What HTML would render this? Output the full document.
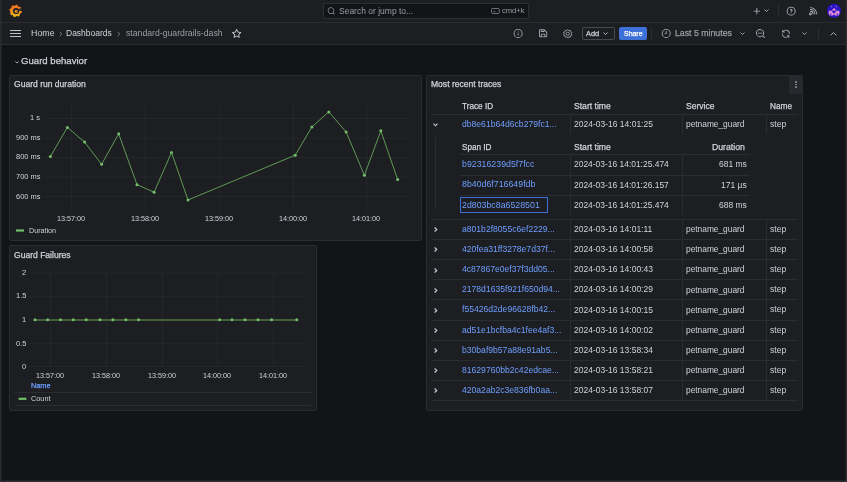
<!DOCTYPE html>
<html><head><meta charset="utf-8"><title>standard-guardrails-dash - Dashboards - Grafana</title>
<style>
html,body{margin:0;padding:0;}
body{width:847px;height:482px;overflow:hidden;position:relative;background:#2b2c31;font-family:"Liberation Sans",Arial,sans-serif;}
.t{position:absolute;white-space:nowrap;will-change:transform;}
svg{overflow:visible;}
</style></head><body>
<div style="position:absolute;left:1px;top:0px;width:845px;height:481px;background:#131418;border-radius:0 0 4px 4px;"></div>
<div style="position:absolute;left:1px;top:0px;width:845px;height:22px;background:#1d1e22;"></div>
<div style="position:absolute;left:1px;top:22px;width:845px;height:1px;background:#2b2c31;"></div>
<div style="position:absolute;left:1px;top:23px;width:845px;height:21px;background:#1d1e22;"></div>
<div style="position:absolute;left:1px;top:44px;width:845px;height:1px;background:#2b2c31;"></div>
<svg style="position:absolute;left:7px;top:3px" width="17" height="16" viewBox="7 3 17 16"><defs><linearGradient id="lg" x1="0" y1="4.5" x2="0" y2="17.3" gradientUnits="userSpaceOnUse"><stop offset="0" stop-color="#ea6a1c"/><stop offset="0.5" stop-color="#f08c1d"/><stop offset="1" stop-color="#f8c11c"/></linearGradient></defs>
<polygon points="16.20,4.93 17.35,5.16 18.01,6.41 18.84,6.96 20.25,7.10 20.90,8.08 20.48,9.43 20.68,10.41 21.57,11.50 21.34,12.65 20.09,13.31 19.54,14.14 19.40,15.55 18.42,16.20 17.07,15.78 16.09,15.98 15.00,16.87 13.85,16.64 13.19,15.39 12.36,14.84 10.95,14.70 10.30,13.72 10.72,12.37 10.52,11.39 9.63,10.30 9.86,9.15 11.11,8.49 11.66,7.66 11.80,6.25 12.78,5.60 14.13,6.02 15.11,5.82" fill="url(#lg)" stroke="url(#lg)" stroke-width="0.5" stroke-linejoin="round"/>
<circle cx="16.1" cy="11.0" r="3.1" fill="#1d1e22"/>
<path d="M18.0 9.3 L21.9 8.0 L22.0 10.8 L18.5 11.0 Z" fill="#2a2b30"/>
<circle cx="16.3" cy="11.3" r="1.65" fill="url(#lg)"/>
<circle cx="16.8" cy="11.3" r="0.55" fill="#3a3020"/></svg>
<div style="position:absolute;left:322.5px;top:2.5px;width:206.5px;height:16.8px;background:#131418;border:1px solid rgba(204,204,220,0.15);border-radius:2px;box-sizing:border-box;"></div>
<svg style="position:absolute;left:0;top:0" width="847" height="482" viewBox="0 0 847 482"><path transform="translate(326.970 6.570) scale(0.3650)" fill="#9a9aa6" d="M21.71,20.29,18,16.61A9,9,0,1,0,16.61,18l3.68,3.68a1,1,0,0,0,1.42,0A1,1,0,0,0,21.71,20.29ZM11,18a7,7,0,1,1,7-7A7,7,0,0,1,11,18Z"/></svg>
<div class="t" style="left:338.80px;top:6.70px;font-size:8.5px;line-height:8.5px;color:#9d9da6;font-weight:400;">Search or jump to...</div>
<svg style="position:absolute;left:490.7px;top:8.3px" width="9" height="6" viewBox="0 0 9 6"><rect x="0.5" y="0.5" width="7.8" height="5" rx="1" stroke="#7a7a84" stroke-width="0.9" fill="none"/><path d="M2.2 3.6 h2.2" stroke="#7a7a84" stroke-width="0.8"/></svg>
<div class="t" style="left:501.50px;top:7.27px;font-size:7.6px;line-height:7.6px;color:#9d9da6;font-weight:400;">cmd+k</div>
<svg style="position:absolute;left:0;top:0" width="847" height="482" viewBox="0 0 847 482"><path transform="translate(751.787 6.038) scale(0.4219)" fill="#b4b4c0" d="M19,11H13V5a1,1,0,0,0-2,0v6H5a1,1,0,0,0,0,2h6v6a1,1,0,0,0,2,0V13h6a1,1,0,0,0,0-2Z"/></svg>
<svg style="position:absolute;left:764px;top:9.2px" width="5" height="3" viewBox="0 0 5 3"><path d="M0.5 0.5 L2.5 2.5 L4.5 0.5" stroke="#b4b4c0" stroke-width="0.9" fill="none"/></svg>
<div style="position:absolute;left:778px;top:4.2px;width:1px;height:13.3px;background:#2b2c31;"></div>
<svg style="position:absolute;left:0;top:0" width="847" height="482" viewBox="0 0 847 482"><path transform="translate(785.810 5.810) scale(0.4450)" fill="#b4b4c0" d="M11.29,15.29a1.58,1.58,0,0,0-.12.15.76.76,0,0,0-.09.18.64.64,0,0,0-.06.18,1.36,1.36,0,0,0,0,.2.84.84,0,0,0,.08.38.9.9,0,0,0,.54.54.94.94,0,0,0,.76,0,.9.9,0,0,0,.54-.54A1,1,0,0,0,13,16a1,1,0,0,0-.29-.71A1,1,0,0,0,11.29,15.29ZM12,2A10,10,0,1,0,22,12,10,10,0,0,0,12,2Zm0,18a8,8,0,1,1,8-8A8,8,0,0,1,12,20ZM12,7A3,3,0,0,0,9.4,8.5a1,1,0,1,0,1.73,1A1,1,0,0,1,12,9a1,1,0,0,1,0,2,1,1,0,0,0-1,1v1a1,1,0,0,0,2,0v-.18A3,3,0,0,0,12,7Z"/></svg>
<svg style="position:absolute;left:0;top:0" width="847" height="482" viewBox="0 0 847 482"><path transform="translate(808.119 5.364) scale(0.4528)" fill="#b4b4c0" d="M2.88,16.88a3,3,0,1,0,4.24,0A3.06,3.06,0,0,0,2.88,16.88Zm2.830,2.830h0a1,1,0,0,1-1.42-1.420,1,1,0,0,1,1.42,0A1,1,0,0,1,5.71,19.71ZM5,12a1,1,0,0,0,0,2,5,5,0,0,1,5,5,1,1,0,0,0,2,0,7,7,0,0,0-7-7ZM5,8A1,1,0,0,0,5,10a9,9,0,0,1,9,9,1,1,0,0,0,2,0,11.080,11.080,0,0,0-3.22-7.78A11.080,11.080,0,0,0,5,8Zm10.61.39A15.110,15.110,0,0,0,5,4,1,1,0,0,0,5,6,13,13,0,0,1,18,19a1,1,0,0,0,2,0A15.110,15.110,0,0,0,15.61,8.39Z"/></svg>
<svg style="position:absolute;left:826px;top:3px" width="16" height="16" viewBox="826 3 16 16"><circle cx="834" cy="10.7" r="7" fill="#2a14c4"/>
<path d="M834 7.9 L836.6 10.8 H831.4 Z" fill="#e48ad8"/>
<path d="M828.7 10.8 H839.4 V14.6 L838.2 15.6 H829.8 L828.7 14.6 Z" fill="#e48ad8"/>
<path d="M831.5 10.8 L834 13.7 L836.5 10.8 Z" fill="#2a14c4"/>
<circle cx="830.6" cy="14.3" r="0.8" fill="#2a14c4"/><circle cx="837.4" cy="14.3" r="0.8" fill="#2a14c4"/><rect x="833.2" y="14.8" width="1.6" height="1.2" fill="#2a14c4"/>
<circle cx="831.6" cy="6.6" r="0.6" fill="#8a9ad8"/><circle cx="836.4" cy="6.6" r="0.6" fill="#c88ad8"/></svg>
<div style="position:absolute;left:10px;top:30px;width:11px;height:1px;background:#c0c0cc;"></div>
<div style="position:absolute;left:10px;top:33px;width:11px;height:1px;background:#c0c0cc;"></div>
<div style="position:absolute;left:10px;top:36px;width:11px;height:1px;background:#c0c0cc;"></div>
<div class="t" style="left:30.60px;top:28.91px;font-size:8.85px;line-height:8.85px;color:#d2d2da;font-weight:400;">Home</div>
<svg style="position:absolute;left:58.8px;top:30.5px" width="3.5" height="6" viewBox="0 0 3.5 6"><path d="M0.6 0.8 L2.8 3 L0.6 5.2" stroke="#8e8e9a" stroke-width="0.8" fill="none"/></svg>
<div class="t" style="left:66.00px;top:29.20px;font-size:8.5px;line-height:8.5px;color:#d2d2da;font-weight:400;">Dashboards</div>
<svg style="position:absolute;left:117.4px;top:30.5px" width="3.5" height="6" viewBox="0 0 3.5 6"><path d="M0.6 0.8 L2.8 3 L0.6 5.2" stroke="#8e8e9a" stroke-width="0.8" fill="none"/></svg>
<div class="t" style="left:125.60px;top:29.04px;font-size:8.7px;line-height:8.7px;color:#9d9da6;font-weight:400;">standard-guardrails-dash</div>
<svg style="position:absolute;left:0;top:0" width="847" height="482" viewBox="0 0 847 482"><path transform="translate(231.139 27.939) scale(0.4593)" fill="#c8c8d4" d="M22,9.67A1,1,0,0,0,21.14,9l-5.69-.83L12.9,3a1,1,0,0,0-1.8,0L8.55,8.16,2.86,9a1,1,0,0,0-.81.68,1,1,0,0,0,.25,1l4.13,4-1,5.68A1,1,0,0,0,6.9,21.440L12,18.77l5.1,2.67a.93.93,0,0,0,.46.12,1,1,0,0,0,.59-.19,1,1,0,0,0,.4-1l-1-5.68,4.13-4A1,1,0,0,0,22,9.67Zm-6.15,4a1,1,0,0,0-.29.88l.72,4.2-3.76-2a1.060,1.060,0,0,0-.94,0l-3.76,2,.72-4.2a1,1,0,0,0-.29-.88l-3-3,4.21-.61a1,1,0,0,0,.76-.55L12,5.7l1.88,3.82a1,1,0,0,0,.76.55l4.21.61Z"/></svg>
<svg style="position:absolute;left:0;top:0" width="847" height="482" viewBox="0 0 847 482"><path transform="translate(512.700 28.000) scale(0.4500)" fill="#a8a8b4" d="M12,2A10,10,0,1,0,22,12,10,10,0,0,0,12,2Zm0,18a8,8,0,1,1,8-8A8,8,0,0,1,12,20Zm0-8.5a1,1,0,0,0-1,1v3a1,1,0,0,0,2,0v-3A1,1,0,0,0,12,11.5Zm0-4a1.25,1.25,0,1,0,1.25,1.25A1.25,1.25,0,0,0,12,7.5Z"/></svg>
<svg style="position:absolute;left:0;top:0" width="847" height="482" viewBox="0 0 847 482"><path transform="translate(537.583 27.783) scale(0.4556)" fill="#a8a8b4" d="M20.71,9.29l-6-6a1,1,0,0,0-.32-.21A1.090,1.090,0,0,0,14,3H6A3,3,0,0,0,3,6V18a3,3,0,0,0,3,3H18a3,3,0,0,0,3-3V10A1,1,0,0,0,20.71,9.29ZM9,5h4V7H9Zm6,14H9V16a1,1,0,0,1,1-1h4a1,1,0,0,1,1,1Zm4-1a1,1,0,0,1-1,1H17V16a3,3,0,0,0-3-3H10a3,3,0,0,0-3,3v3H6a1,1,0,0,1-1-1V6A1,1,0,0,1,6,5H7V8A1,1,0,0,0,8,9h6a1,1,0,0,0,1-1V6.41l4,4Z"/></svg>
<svg style="position:absolute;left:562.8px;top:28.8px" width="9.5" height="9.5" viewBox="0 0 9.5 9.5"><path d="M4.75 0.5 L5.7 1.6 L7.2 1.3 L7.5 2.8 L8.9 3.4 L8.3 4.75 L8.9 6.1 L7.5 6.7 L7.2 8.2 L5.7 7.9 L4.75 9 L3.8 7.9 L2.3 8.2 L2 6.7 L0.6 6.1 L1.2 4.75 L0.6 3.4 L2 2.8 L2.3 1.3 L3.8 1.6 Z" stroke="#a8a8b4" stroke-width="0.85" fill="none" stroke-linejoin="round"/><circle cx="4.75" cy="4.75" r="1.6" stroke="#a8a8b4" stroke-width="0.85" fill="none"/></svg>
<div style="position:absolute;left:582px;top:26.5px;width:32.5px;height:13.3px;border:1px solid rgba(204,204,220,0.25);border-radius:2px;box-sizing:border-box;"></div>
<div class="t" style="left:586.10px;top:29.74px;font-size:7.4px;line-height:7.4px;color:#d2d2da;font-weight:400;-webkit-text-stroke:0.25px #d2d2da;">Add</div>
<svg style="position:absolute;left:602.5px;top:31.8px" width="5" height="3" viewBox="0 0 5 3"><path d="M0.5 0.5 L2.5 2.5 L4.5 0.5" stroke="#ccccdc" stroke-width="0.9" fill="none"/></svg>
<div style="position:absolute;left:619px;top:26.5px;width:28px;height:13.5px;background:#3d71d9;border-radius:2px;"></div>
<div class="t" style="left:624.00px;top:30.72px;font-size:6.95px;line-height:6.95px;color:#ffffff;font-weight:400;-webkit-text-stroke:0.25px #ffffff;">Share</div>
<div style="position:absolute;left:651px;top:26.5px;width:1px;height:13.3px;background:#2b2c31;"></div>
<svg style="position:absolute;left:0;top:0" width="847" height="482" viewBox="0 0 847 482"><path transform="translate(660.800 28.000) scale(0.4500)" fill="#a8a8b4" d="M12,2A10,10,0,1,0,22,12,10,10,0,0,0,12,2Zm0,18a8,8,0,1,1,8-8A8,8,0,0,1,12,20Zm0-14a1,1,0,0,0-1,1v4H9a1,1,0,0,0,0,2h3a1,1,0,0,0,1-1V7A1,1,0,0,0,12,6Z"/></svg>
<div class="t" style="left:675.40px;top:28.99px;font-size:8.75px;line-height:8.75px;color:#9d9da6;font-weight:400;-webkit-text-stroke:0.25px #9d9da6;">Last 5 minutes</div>
<svg style="position:absolute;left:739.5px;top:31.8px" width="5" height="3" viewBox="0 0 5 3"><path d="M0.5 0.5 L2.5 2.5 L4.5 0.5" stroke="#a8a8b4" stroke-width="0.9" fill="none"/></svg>
<svg style="position:absolute;left:0;top:0" width="847" height="482" viewBox="0 0 847 482"><path transform="translate(755.100 28.200) scale(0.4500)" fill="#a8a8b4" d="M21.71,20.29,18,16.61A9,9,0,1,0,16.61,18l3.68,3.68a1,1,0,0,0,1.42,0A1,1,0,0,0,21.71,20.29ZM11,18a7,7,0,1,1,7-7A7,7,0,0,1,11,18Zm4-8H7a1,1,0,0,0,0,2h8a1,1,0,0,0,0-2Z"/></svg>
<svg style="position:absolute;left:780.8px;top:28.7px" width="9.6" height="9.6" viewBox="0 0 9.6 9.6"><path transform="scale(0.4)" fill="#a8a8b4" d="M19.91,15.51H15.38a1,1,0,0,0,0,2h2.4A8,8,0,0,1,4,12a1,1,0,0,0-2,0,10,10,0,0,0,16.88,7.23V21a1,1,0,0,0,2,0V16.5A1,1,0,0,0,19.91,15.51ZM12,2A10,10,0,0,0,5.12,4.77V3a1,1,0,0,0-2,0V7.5a1,1,0,0,0,1,1h4.5a1,1,0,0,0,0-2H6.22A8,8,0,0,1,20,12a1,1,0,0,0,2,0A10,10,0,0,0,12,2Z"/></svg>
<svg style="position:absolute;left:802px;top:31.8px" width="5" height="3" viewBox="0 0 5 3"><path d="M0.5 0.5 L2.5 2.5 L4.5 0.5" stroke="#a8a8b4" stroke-width="0.9" fill="none"/></svg>
<div style="position:absolute;left:818.3px;top:26.5px;width:1px;height:13.3px;background:#2b2c31;"></div>
<svg style="position:absolute;left:829.5px;top:31.9px" width="7" height="4" viewBox="0 0 7 4"><path d="M0.6 3.4 L3.5 0.6 L6.4 3.4" stroke="#a8a8b4" stroke-width="1" fill="none"/></svg>
<svg style="position:absolute;left:15.2px;top:61.3px" width="4" height="3" viewBox="0 0 4 3"><path d="M0.4 0.4 L2 2.1 L3.6 0.4" stroke="#ccccdc" stroke-width="0.8" fill="none"/></svg>
<div class="t" style="left:21.20px;top:56.17px;font-size:9.6px;line-height:9.6px;color:#d2d2da;font-weight:400;-webkit-text-stroke:0.25px #d2d2da;">Guard behavior</div>
<div style="position:absolute;left:9px;top:75px;width:412.5px;height:165.5px;background:#1d1e22;border:1px solid #2b2c31;border-radius:2px;box-sizing:border-box;"></div>
<div style="position:absolute;left:9px;top:245px;width:308px;height:165.5px;background:#1d1e22;border:1px solid #2b2c31;border-radius:2px;box-sizing:border-box;"></div>
<div style="position:absolute;left:426px;top:75px;width:377px;height:335.5px;background:#1d1e22;border:1px solid #2b2c31;border-radius:2px;box-sizing:border-box;"></div>
<div class="t" style="left:13.90px;top:80.46px;font-size:8.55px;line-height:8.55px;color:#d2d2da;font-weight:400;-webkit-text-stroke:0.25px #d2d2da;">Guard run duration</div>
<div class="t" style="left:13.90px;top:250.56px;font-size:8.55px;line-height:8.55px;color:#d2d2da;font-weight:400;-webkit-text-stroke:0.25px #d2d2da;">Guard Failures</div>
<div class="t" style="left:430.60px;top:80.16px;font-size:8.55px;line-height:8.55px;color:#d2d2da;font-weight:400;-webkit-text-stroke:0.25px #d2d2da;">Most recent traces</div>
<svg style="position:absolute;left:0px;top:0px" width="847" height="482" viewBox="0 0 847 482"><path d="M43.6 118.5 H412" stroke="rgba(204,204,220,0.045)" stroke-width="1"/><path d="M43.6 138 H412" stroke="rgba(204,204,220,0.045)" stroke-width="1"/><path d="M43.6 157.5 H412" stroke="rgba(204,204,220,0.045)" stroke-width="1"/><path d="M43.6 177 H412" stroke="rgba(204,204,220,0.045)" stroke-width="1"/><path d="M43.6 196.5 H412" stroke="rgba(204,204,220,0.045)" stroke-width="1"/><path d="M71.5 102.7 V212.7" stroke="rgba(204,204,220,0.045)" stroke-width="1"/><path d="M145.5 102.7 V212.7" stroke="rgba(204,204,220,0.045)" stroke-width="1"/><path d="M219.5 102.7 V212.7" stroke="rgba(204,204,220,0.045)" stroke-width="1"/><path d="M293.5 102.7 V212.7" stroke="rgba(204,204,220,0.045)" stroke-width="1"/><path d="M366.5 102.7 V212.7" stroke="rgba(204,204,220,0.045)" stroke-width="1"/><polyline points="50.4,156.5 67.4,127.4 84.6,142.1 101.6,164.3 118.7,133.8 137,184.7 154.1,192.2 171.5,152.5 188,200 295.2,155.2 311.9,126.9 328.8,111.9 346.1,131.9 364.4,175.3 380.8,130.8 397.7,179.6" stroke="#66a85d" stroke-width="0.9" fill="none" stroke-linejoin="round"/><circle cx="50.4" cy="156.5" r="1.5" fill="#73bf69"/><circle cx="67.4" cy="127.4" r="1.5" fill="#73bf69"/><circle cx="84.6" cy="142.1" r="1.5" fill="#73bf69"/><circle cx="101.6" cy="164.3" r="1.5" fill="#73bf69"/><circle cx="118.7" cy="133.8" r="1.5" fill="#73bf69"/><circle cx="137" cy="184.7" r="1.5" fill="#73bf69"/><circle cx="154.1" cy="192.2" r="1.5" fill="#73bf69"/><circle cx="171.5" cy="152.5" r="1.5" fill="#73bf69"/><circle cx="188" cy="200" r="1.5" fill="#73bf69"/><circle cx="295.2" cy="155.2" r="1.5" fill="#73bf69"/><circle cx="311.9" cy="126.9" r="1.5" fill="#73bf69"/><circle cx="328.8" cy="111.9" r="1.5" fill="#73bf69"/><circle cx="346.1" cy="131.9" r="1.5" fill="#73bf69"/><circle cx="364.4" cy="175.3" r="1.5" fill="#73bf69"/><circle cx="380.8" cy="130.8" r="1.5" fill="#73bf69"/><circle cx="397.7" cy="179.6" r="1.5" fill="#73bf69"/><path d="M29.1 273 H307.7" stroke="rgba(204,204,220,0.045)" stroke-width="1"/><path d="M29.1 296.4 H307.7" stroke="rgba(204,204,220,0.045)" stroke-width="1"/><path d="M29.1 319.8 H307.7" stroke="rgba(204,204,220,0.045)" stroke-width="1"/><path d="M29.1 343.2 H307.7" stroke="rgba(204,204,220,0.045)" stroke-width="1"/><path d="M29.1 366.6 H307.7" stroke="rgba(204,204,220,0.045)" stroke-width="1"/><path d="M50.5 273 V366.6" stroke="rgba(204,204,220,0.045)" stroke-width="1"/><path d="M106.5 273 V366.6" stroke="rgba(204,204,220,0.045)" stroke-width="1"/><path d="M162.5 273 V366.6" stroke="rgba(204,204,220,0.045)" stroke-width="1"/><path d="M217.5 273 V366.6" stroke="rgba(204,204,220,0.045)" stroke-width="1"/><path d="M273.5 273 V366.6" stroke="rgba(204,204,220,0.045)" stroke-width="1"/><path d="M35 320 H296.8" stroke="#41603b" stroke-width="2"/><circle cx="35" cy="319.75" r="1.5" fill="#73bf69"/><circle cx="47.7" cy="319.75" r="1.5" fill="#73bf69"/><circle cx="60.5" cy="319.75" r="1.5" fill="#73bf69"/><circle cx="73.2" cy="319.75" r="1.5" fill="#73bf69"/><circle cx="86.2" cy="319.75" r="1.5" fill="#73bf69"/><circle cx="100" cy="319.75" r="1.5" fill="#73bf69"/><circle cx="112.9" cy="319.75" r="1.5" fill="#73bf69"/><circle cx="125.9" cy="319.75" r="1.5" fill="#73bf69"/><circle cx="138.6" cy="319.75" r="1.5" fill="#73bf69"/><circle cx="219.7" cy="319.75" r="1.5" fill="#73bf69"/><circle cx="232" cy="319.75" r="1.5" fill="#73bf69"/><circle cx="245" cy="319.75" r="1.5" fill="#73bf69"/><circle cx="258" cy="319.75" r="1.5" fill="#73bf69"/><circle cx="271.6" cy="319.75" r="1.5" fill="#73bf69"/><circle cx="296.8" cy="319.75" r="1.5" fill="#73bf69"/><path d="M16 230.5 H24" stroke="#73bf69" stroke-width="2.2"/><path d="M18.6 398.8 H26.4" stroke="#73bf69" stroke-width="2.2"/><path d="M14.1 392.5 H311.4 M14.1 405.5 H311.4" stroke="#2b2c31" stroke-width="1"/></svg>
<div class="t" style="right:806.80px;top:114.04px;font-size:7.45px;line-height:7.45px;color:#d2d2da;font-weight:400;">1 s</div>
<div class="t" style="right:806.80px;top:133.84px;font-size:7.45px;line-height:7.45px;color:#d2d2da;font-weight:400;">900 ms</div>
<div class="t" style="right:806.80px;top:153.44px;font-size:7.45px;line-height:7.45px;color:#d2d2da;font-weight:400;">800 ms</div>
<div class="t" style="right:806.80px;top:173.44px;font-size:7.45px;line-height:7.45px;color:#d2d2da;font-weight:400;">700 ms</div>
<div class="t" style="right:806.80px;top:192.84px;font-size:7.45px;line-height:7.45px;color:#d2d2da;font-weight:400;">600 ms</div>
<div class="t" style="left:70.90px;transform:translateX(-50%);top:215.16px;font-size:7.25px;line-height:7.25px;color:#d2d2da;font-weight:400;">13:57:00</div>
<div class="t" style="left:144.90px;transform:translateX(-50%);top:215.16px;font-size:7.25px;line-height:7.25px;color:#d2d2da;font-weight:400;">13:58:00</div>
<div class="t" style="left:218.90px;transform:translateX(-50%);top:215.16px;font-size:7.25px;line-height:7.25px;color:#d2d2da;font-weight:400;">13:59:00</div>
<div class="t" style="left:292.90px;transform:translateX(-50%);top:215.16px;font-size:7.25px;line-height:7.25px;color:#d2d2da;font-weight:400;">14:00:00</div>
<div class="t" style="left:365.90px;transform:translateX(-50%);top:215.16px;font-size:7.25px;line-height:7.25px;color:#d2d2da;font-weight:400;">14:01:00</div>
<div class="t" style="left:28.50px;top:227.55px;font-size:7.15px;line-height:7.15px;color:#d2d2da;font-weight:400;">Duration</div>
<div class="t" style="right:820.60px;top:268.89px;font-size:7.45px;line-height:7.45px;color:#d2d2da;font-weight:400;">2</div>
<div class="t" style="right:820.60px;top:292.29px;font-size:7.45px;line-height:7.45px;color:#d2d2da;font-weight:400;">1.5</div>
<div class="t" style="right:820.60px;top:315.69px;font-size:7.45px;line-height:7.45px;color:#d2d2da;font-weight:400;">1</div>
<div class="t" style="right:820.60px;top:339.59px;font-size:7.45px;line-height:7.45px;color:#d2d2da;font-weight:400;">0.5</div>
<div class="t" style="right:820.60px;top:363.29px;font-size:7.45px;line-height:7.45px;color:#d2d2da;font-weight:400;">0</div>
<div class="t" style="left:50.10px;transform:translateX(-50%);top:371.71px;font-size:7.2px;line-height:7.2px;color:#d2d2da;font-weight:400;">13:57:00</div>
<div class="t" style="left:106.10px;transform:translateX(-50%);top:371.71px;font-size:7.2px;line-height:7.2px;color:#d2d2da;font-weight:400;">13:58:00</div>
<div class="t" style="left:162.10px;transform:translateX(-50%);top:371.71px;font-size:7.2px;line-height:7.2px;color:#d2d2da;font-weight:400;">13:59:00</div>
<div class="t" style="left:217.10px;transform:translateX(-50%);top:371.71px;font-size:7.2px;line-height:7.2px;color:#d2d2da;font-weight:400;">14:00:00</div>
<div class="t" style="left:273.10px;transform:translateX(-50%);top:371.71px;font-size:7.2px;line-height:7.2px;color:#d2d2da;font-weight:400;">14:01:00</div>
<div class="t" style="left:30.70px;top:381.52px;font-size:7.3px;line-height:7.3px;color:#6e9fff;font-weight:400;-webkit-text-stroke:0.25px #6e9fff;">Name</div>
<div class="t" style="left:30.60px;top:395.02px;font-size:7.3px;line-height:7.3px;color:#d2d2da;font-weight:400;">Count</div>
<div style="position:absolute;left:789px;top:75.3px;width:14px;height:18.3px;background:repeating-conic-gradient(#2b2c31 0 25%, #25262b 0 50%) 0 0/2px 2px;border-radius:0 2px 0 2px;"></div>
<div style="position:absolute;left:795.4px;top:81.0px;width:1.4px;height:1.5px;background:#85858c;border-radius:0.4px;"></div>
<div style="position:absolute;left:795.4px;top:83.8px;width:1.4px;height:1.5px;background:#85858c;border-radius:0.4px;"></div>
<div style="position:absolute;left:795.4px;top:86.4px;width:1.4px;height:1.5px;background:#85858c;border-radius:0.4px;"></div>
<div class="t" style="left:462.30px;top:102.66px;font-size:8.2px;line-height:8.2px;color:#d2d2da;font-weight:400;-webkit-text-stroke:0.25px #d2d2da;">Trace ID</div>
<div class="t" style="left:574.00px;top:101.52px;font-size:8.6px;line-height:8.6px;color:#d2d2da;font-weight:400;-webkit-text-stroke:0.25px #d2d2da;">Start time</div>
<div class="t" style="left:686.20px;top:102.36px;font-size:8.55px;line-height:8.55px;color:#d2d2da;font-weight:400;-webkit-text-stroke:0.25px #d2d2da;">Service</div>
<div class="t" style="left:770.30px;top:102.62px;font-size:8.25px;line-height:8.25px;color:#d2d2da;font-weight:400;-webkit-text-stroke:0.25px #d2d2da;">Name</div>
<div style="position:absolute;left:430.7px;top:113.5px;width:367.5px;height:1px;background:#2b2c31;"></div>
<svg style="position:absolute;left:433.3px;top:122.6px" width="5" height="3.5" viewBox="0 0 5 3.5"><path d="M0.5 0.6 L2.5 2.8 L4.5 0.6" stroke="#ccccdc" stroke-width="1.1" fill="none"/></svg>
<div class="t" style="left:462.00px;top:119.72px;font-size:8.6px;line-height:8.6px;color:#6e9fff;font-weight:400;">db8e61b64d6cb279fc1...</div>
<div class="t" style="left:574.20px;top:119.80px;font-size:8.5px;line-height:8.5px;color:#d2d2da;font-weight:400;">2024-03-16 14:01:25</div>
<div class="t" style="left:686.20px;top:119.93px;font-size:8.35px;line-height:8.35px;color:#d2d2da;font-weight:400;">petname_guard</div>
<div class="t" style="left:770.30px;top:119.72px;font-size:8.6px;line-height:8.6px;color:#d2d2da;font-weight:400;">step</div>
<div style="position:absolute;left:570.3px;top:114.5px;width:1px;height:19.2px;background:#2b2c31;"></div>
<div style="position:absolute;left:682.1px;top:114.5px;width:1px;height:19.2px;background:#2b2c31;"></div>
<div style="position:absolute;left:766.2px;top:114.5px;width:1px;height:19.2px;background:#2b2c31;"></div>
<div style="position:absolute;left:435px;top:136.8px;width:1px;height:72.7px;background:#2b2c31;"></div>
<div class="t" style="left:462.00px;top:143.50px;font-size:8.15px;line-height:8.15px;color:#d2d2da;font-weight:400;-webkit-text-stroke:0.25px #d2d2da;">Span ID</div>
<div class="t" style="left:574.00px;top:142.62px;font-size:8.6px;line-height:8.6px;color:#d2d2da;font-weight:400;-webkit-text-stroke:0.25px #d2d2da;">Start time</div>
<div class="t" style="right:102.60px;top:143.04px;font-size:8.7px;line-height:8.7px;color:#d2d2da;font-weight:400;-webkit-text-stroke:0.25px #d2d2da;">Duration</div>
<div style="position:absolute;left:459.1px;top:154px;width:290.7px;height:1px;background:#2b2c31;"></div>
<div class="t" style="left:462.00px;top:160.05px;font-size:8.8px;line-height:8.8px;color:#6e9fff;font-weight:400;">b92316239d5f7fcc</div>
<div class="t" style="left:574.20px;top:160.35px;font-size:8.45px;line-height:8.45px;color:#d2d2da;font-weight:400;">2024-03-16 14:01:25.474</div>
<div class="t" style="right:100.40px;top:160.30px;font-size:8.5px;line-height:8.5px;color:#d2d2da;font-weight:400;">681 ms</div>
<div style="position:absolute;left:570.3px;top:155.0px;width:1px;height:19.2px;background:#2b2c31;"></div>
<div style="position:absolute;left:682.1px;top:155.0px;width:1px;height:19.2px;background:#2b2c31;"></div>
<div style="position:absolute;left:459.1px;top:174.5px;width:290.7px;height:1px;background:#2b2c31;"></div>
<div class="t" style="left:462.00px;top:180.30px;font-size:8.8px;line-height:8.8px;color:#6e9fff;font-weight:400;">8b40d6f716649fdb</div>
<div class="t" style="left:574.20px;top:180.60px;font-size:8.45px;line-height:8.45px;color:#d2d2da;font-weight:400;">2024-03-16 14:01:26.157</div>
<div class="t" style="right:100.40px;top:180.55px;font-size:8.5px;line-height:8.5px;color:#d2d2da;font-weight:400;">171 µs</div>
<div style="position:absolute;left:570.3px;top:175.25px;width:1px;height:19.2px;background:#2b2c31;"></div>
<div style="position:absolute;left:682.1px;top:175.25px;width:1px;height:19.2px;background:#2b2c31;"></div>
<div style="position:absolute;left:459.1px;top:194.75px;width:290.7px;height:1px;background:#2b2c31;"></div>
<div class="t" style="left:462.00px;top:200.55px;font-size:8.8px;line-height:8.8px;color:#6e9fff;font-weight:400;">2d803bc8a6528501</div>
<div class="t" style="left:574.20px;top:200.85px;font-size:8.45px;line-height:8.45px;color:#d2d2da;font-weight:400;">2024-03-16 14:01:25.474</div>
<div class="t" style="right:100.40px;top:200.80px;font-size:8.5px;line-height:8.5px;color:#d2d2da;font-weight:400;">688 ms</div>
<div style="position:absolute;left:570.3px;top:195.5px;width:1px;height:19.2px;background:#2b2c31;"></div>
<div style="position:absolute;left:682.1px;top:195.5px;width:1px;height:19.2px;background:#2b2c31;"></div>
<div style="position:absolute;left:460.3px;top:197.2px;width:87.6px;height:16.2px;border:1px solid #3d71d9;box-sizing:border-box;"></div>
<div style="position:absolute;left:430.7px;top:218.6px;width:367.5px;height:1px;background:#2b2c31;"></div>
<svg style="position:absolute;left:433.8px;top:227.2px" width="3.5" height="5" viewBox="0 0 3.5 5"><path d="M0.6 0.5 L2.8 2.5 L0.6 4.5" stroke="#ccccdc" stroke-width="1.1" fill="none"/></svg>
<div class="t" style="left:462.00px;top:224.82px;font-size:8.6px;line-height:8.6px;color:#6e9fff;font-weight:400;">a801b2f8055c6ef2229...</div>
<div class="t" style="left:574.20px;top:224.90px;font-size:8.5px;line-height:8.5px;color:#d2d2da;font-weight:400;">2024-03-16 14:01:11</div>
<div class="t" style="left:686.20px;top:225.03px;font-size:8.35px;line-height:8.35px;color:#d2d2da;font-weight:400;">petname_guard</div>
<div class="t" style="left:770.30px;top:224.82px;font-size:8.6px;line-height:8.6px;color:#d2d2da;font-weight:400;">step</div>
<div style="position:absolute;left:570.3px;top:219.6px;width:1px;height:19.2px;background:#2b2c31;"></div>
<div style="position:absolute;left:682.1px;top:219.6px;width:1px;height:19.2px;background:#2b2c31;"></div>
<div style="position:absolute;left:766.2px;top:219.6px;width:1px;height:19.2px;background:#2b2c31;"></div>
<div style="position:absolute;left:430.7px;top:238.9px;width:367.5px;height:1px;background:#2b2c31;"></div>
<svg style="position:absolute;left:433.8px;top:247.35999999999999px" width="3.5" height="5" viewBox="0 0 3.5 5"><path d="M0.6 0.5 L2.8 2.5 L0.6 4.5" stroke="#ccccdc" stroke-width="1.1" fill="none"/></svg>
<div class="t" style="left:462.00px;top:244.98px;font-size:8.6px;line-height:8.6px;color:#6e9fff;font-weight:400;">420fea31ff3278e7d37f...</div>
<div class="t" style="left:574.20px;top:245.06px;font-size:8.5px;line-height:8.5px;color:#d2d2da;font-weight:400;">2024-03-16 14:00:58</div>
<div class="t" style="left:686.20px;top:245.19px;font-size:8.35px;line-height:8.35px;color:#d2d2da;font-weight:400;">petname_guard</div>
<div class="t" style="left:770.30px;top:244.98px;font-size:8.6px;line-height:8.6px;color:#d2d2da;font-weight:400;">step</div>
<div style="position:absolute;left:570.3px;top:239.76px;width:1px;height:19.2px;background:#2b2c31;"></div>
<div style="position:absolute;left:682.1px;top:239.76px;width:1px;height:19.2px;background:#2b2c31;"></div>
<div style="position:absolute;left:766.2px;top:239.76px;width:1px;height:19.2px;background:#2b2c31;"></div>
<div style="position:absolute;left:430.7px;top:259.06px;width:367.5px;height:1px;background:#2b2c31;"></div>
<svg style="position:absolute;left:433.8px;top:267.52000000000004px" width="3.5" height="5" viewBox="0 0 3.5 5"><path d="M0.6 0.5 L2.8 2.5 L0.6 4.5" stroke="#ccccdc" stroke-width="1.1" fill="none"/></svg>
<div class="t" style="left:462.00px;top:265.14px;font-size:8.6px;line-height:8.6px;color:#6e9fff;font-weight:400;">4c87867e0ef37f3dd05...</div>
<div class="t" style="left:574.20px;top:265.22px;font-size:8.5px;line-height:8.5px;color:#d2d2da;font-weight:400;">2024-03-16 14:00:43</div>
<div class="t" style="left:686.20px;top:265.35px;font-size:8.35px;line-height:8.35px;color:#d2d2da;font-weight:400;">petname_guard</div>
<div class="t" style="left:770.30px;top:265.14px;font-size:8.6px;line-height:8.6px;color:#d2d2da;font-weight:400;">step</div>
<div style="position:absolute;left:570.3px;top:259.92px;width:1px;height:19.2px;background:#2b2c31;"></div>
<div style="position:absolute;left:682.1px;top:259.92px;width:1px;height:19.2px;background:#2b2c31;"></div>
<div style="position:absolute;left:766.2px;top:259.92px;width:1px;height:19.2px;background:#2b2c31;"></div>
<div style="position:absolute;left:430.7px;top:279.22px;width:367.5px;height:1px;background:#2b2c31;"></div>
<svg style="position:absolute;left:433.8px;top:287.68px" width="3.5" height="5" viewBox="0 0 3.5 5"><path d="M0.6 0.5 L2.8 2.5 L0.6 4.5" stroke="#ccccdc" stroke-width="1.1" fill="none"/></svg>
<div class="t" style="left:462.00px;top:285.30px;font-size:8.6px;line-height:8.6px;color:#6e9fff;font-weight:400;">2178d1635f921f650d94...</div>
<div class="t" style="left:574.20px;top:285.38px;font-size:8.5px;line-height:8.5px;color:#d2d2da;font-weight:400;">2024-03-16 14:00:29</div>
<div class="t" style="left:686.20px;top:285.51px;font-size:8.35px;line-height:8.35px;color:#d2d2da;font-weight:400;">petname_guard</div>
<div class="t" style="left:770.30px;top:285.30px;font-size:8.6px;line-height:8.6px;color:#d2d2da;font-weight:400;">step</div>
<div style="position:absolute;left:570.3px;top:280.08px;width:1px;height:19.2px;background:#2b2c31;"></div>
<div style="position:absolute;left:682.1px;top:280.08px;width:1px;height:19.2px;background:#2b2c31;"></div>
<div style="position:absolute;left:766.2px;top:280.08px;width:1px;height:19.2px;background:#2b2c31;"></div>
<div style="position:absolute;left:430.7px;top:299.38px;width:367.5px;height:1px;background:#2b2c31;"></div>
<svg style="position:absolute;left:433.8px;top:307.84000000000003px" width="3.5" height="5" viewBox="0 0 3.5 5"><path d="M0.6 0.5 L2.8 2.5 L0.6 4.5" stroke="#ccccdc" stroke-width="1.1" fill="none"/></svg>
<div class="t" style="left:462.00px;top:305.46px;font-size:8.6px;line-height:8.6px;color:#6e9fff;font-weight:400;">f55426d2de96628fb42...</div>
<div class="t" style="left:574.20px;top:305.54px;font-size:8.5px;line-height:8.5px;color:#d2d2da;font-weight:400;">2024-03-16 14:00:15</div>
<div class="t" style="left:686.20px;top:305.67px;font-size:8.35px;line-height:8.35px;color:#d2d2da;font-weight:400;">petname_guard</div>
<div class="t" style="left:770.30px;top:305.46px;font-size:8.6px;line-height:8.6px;color:#d2d2da;font-weight:400;">step</div>
<div style="position:absolute;left:570.3px;top:300.24px;width:1px;height:19.2px;background:#2b2c31;"></div>
<div style="position:absolute;left:682.1px;top:300.24px;width:1px;height:19.2px;background:#2b2c31;"></div>
<div style="position:absolute;left:766.2px;top:300.24px;width:1px;height:19.2px;background:#2b2c31;"></div>
<div style="position:absolute;left:430.7px;top:319.54px;width:367.5px;height:1px;background:#2b2c31;"></div>
<svg style="position:absolute;left:433.8px;top:328.0px" width="3.5" height="5" viewBox="0 0 3.5 5"><path d="M0.6 0.5 L2.8 2.5 L0.6 4.5" stroke="#ccccdc" stroke-width="1.1" fill="none"/></svg>
<div class="t" style="left:462.00px;top:325.62px;font-size:8.6px;line-height:8.6px;color:#6e9fff;font-weight:400;">ad51e1bcfba4c1fee4af3...</div>
<div class="t" style="left:574.20px;top:325.70px;font-size:8.5px;line-height:8.5px;color:#d2d2da;font-weight:400;">2024-03-16 14:00:02</div>
<div class="t" style="left:686.20px;top:325.83px;font-size:8.35px;line-height:8.35px;color:#d2d2da;font-weight:400;">petname_guard</div>
<div class="t" style="left:770.30px;top:325.62px;font-size:8.6px;line-height:8.6px;color:#d2d2da;font-weight:400;">step</div>
<div style="position:absolute;left:570.3px;top:320.4px;width:1px;height:19.2px;background:#2b2c31;"></div>
<div style="position:absolute;left:682.1px;top:320.4px;width:1px;height:19.2px;background:#2b2c31;"></div>
<div style="position:absolute;left:766.2px;top:320.4px;width:1px;height:19.2px;background:#2b2c31;"></div>
<div style="position:absolute;left:430.7px;top:339.7px;width:367.5px;height:1px;background:#2b2c31;"></div>
<svg style="position:absolute;left:433.8px;top:348.16px" width="3.5" height="5" viewBox="0 0 3.5 5"><path d="M0.6 0.5 L2.8 2.5 L0.6 4.5" stroke="#ccccdc" stroke-width="1.1" fill="none"/></svg>
<div class="t" style="left:462.00px;top:345.78px;font-size:8.6px;line-height:8.6px;color:#6e9fff;font-weight:400;">b30baf9b57a88e91ab5...</div>
<div class="t" style="left:574.20px;top:345.86px;font-size:8.5px;line-height:8.5px;color:#d2d2da;font-weight:400;">2024-03-16 13:58:34</div>
<div class="t" style="left:686.20px;top:345.99px;font-size:8.35px;line-height:8.35px;color:#d2d2da;font-weight:400;">petname_guard</div>
<div class="t" style="left:770.30px;top:345.78px;font-size:8.6px;line-height:8.6px;color:#d2d2da;font-weight:400;">step</div>
<div style="position:absolute;left:570.3px;top:340.56px;width:1px;height:19.2px;background:#2b2c31;"></div>
<div style="position:absolute;left:682.1px;top:340.56px;width:1px;height:19.2px;background:#2b2c31;"></div>
<div style="position:absolute;left:766.2px;top:340.56px;width:1px;height:19.2px;background:#2b2c31;"></div>
<div style="position:absolute;left:430.7px;top:359.86px;width:367.5px;height:1px;background:#2b2c31;"></div>
<svg style="position:absolute;left:433.8px;top:368.32000000000005px" width="3.5" height="5" viewBox="0 0 3.5 5"><path d="M0.6 0.5 L2.8 2.5 L0.6 4.5" stroke="#ccccdc" stroke-width="1.1" fill="none"/></svg>
<div class="t" style="left:462.00px;top:365.94px;font-size:8.6px;line-height:8.6px;color:#6e9fff;font-weight:400;">81629760bb2c42edcae...</div>
<div class="t" style="left:574.20px;top:366.02px;font-size:8.5px;line-height:8.5px;color:#d2d2da;font-weight:400;">2024-03-16 13:58:21</div>
<div class="t" style="left:686.20px;top:366.15px;font-size:8.35px;line-height:8.35px;color:#d2d2da;font-weight:400;">petname_guard</div>
<div class="t" style="left:770.30px;top:365.94px;font-size:8.6px;line-height:8.6px;color:#d2d2da;font-weight:400;">step</div>
<div style="position:absolute;left:570.3px;top:360.72px;width:1px;height:19.2px;background:#2b2c31;"></div>
<div style="position:absolute;left:682.1px;top:360.72px;width:1px;height:19.2px;background:#2b2c31;"></div>
<div style="position:absolute;left:766.2px;top:360.72px;width:1px;height:19.2px;background:#2b2c31;"></div>
<div style="position:absolute;left:430.7px;top:380.02000000000004px;width:367.5px;height:1px;background:#2b2c31;"></div>
<svg style="position:absolute;left:433.8px;top:388.48px" width="3.5" height="5" viewBox="0 0 3.5 5"><path d="M0.6 0.5 L2.8 2.5 L0.6 4.5" stroke="#ccccdc" stroke-width="1.1" fill="none"/></svg>
<div class="t" style="left:462.00px;top:386.10px;font-size:8.6px;line-height:8.6px;color:#6e9fff;font-weight:400;">420a2ab2c3e836fb0aa...</div>
<div class="t" style="left:574.20px;top:386.18px;font-size:8.5px;line-height:8.5px;color:#d2d2da;font-weight:400;">2024-03-16 13:58:07</div>
<div class="t" style="left:686.20px;top:386.31px;font-size:8.35px;line-height:8.35px;color:#d2d2da;font-weight:400;">petname_guard</div>
<div class="t" style="left:770.30px;top:386.10px;font-size:8.6px;line-height:8.6px;color:#d2d2da;font-weight:400;">step</div>
<div style="position:absolute;left:570.3px;top:380.88px;width:1px;height:19.2px;background:#2b2c31;"></div>
<div style="position:absolute;left:682.1px;top:380.88px;width:1px;height:19.2px;background:#2b2c31;"></div>
<div style="position:absolute;left:766.2px;top:380.88px;width:1px;height:19.2px;background:#2b2c31;"></div>
<div style="position:absolute;left:430.7px;top:400.18px;width:367.5px;height:1px;background:#2b2c31;"></div>
<div style="position:absolute;left:1px;top:0px;width:1px;height:478px;background:rgba(43,44,49,0.45);"></div>
<div style="position:absolute;left:845px;top:0px;width:1px;height:477px;background:rgba(43,44,49,0.55);"></div>
<div style="position:absolute;left:4px;top:480px;width:839px;height:1px;background:rgba(43,44,49,0.7);"></div>
</body></html>
